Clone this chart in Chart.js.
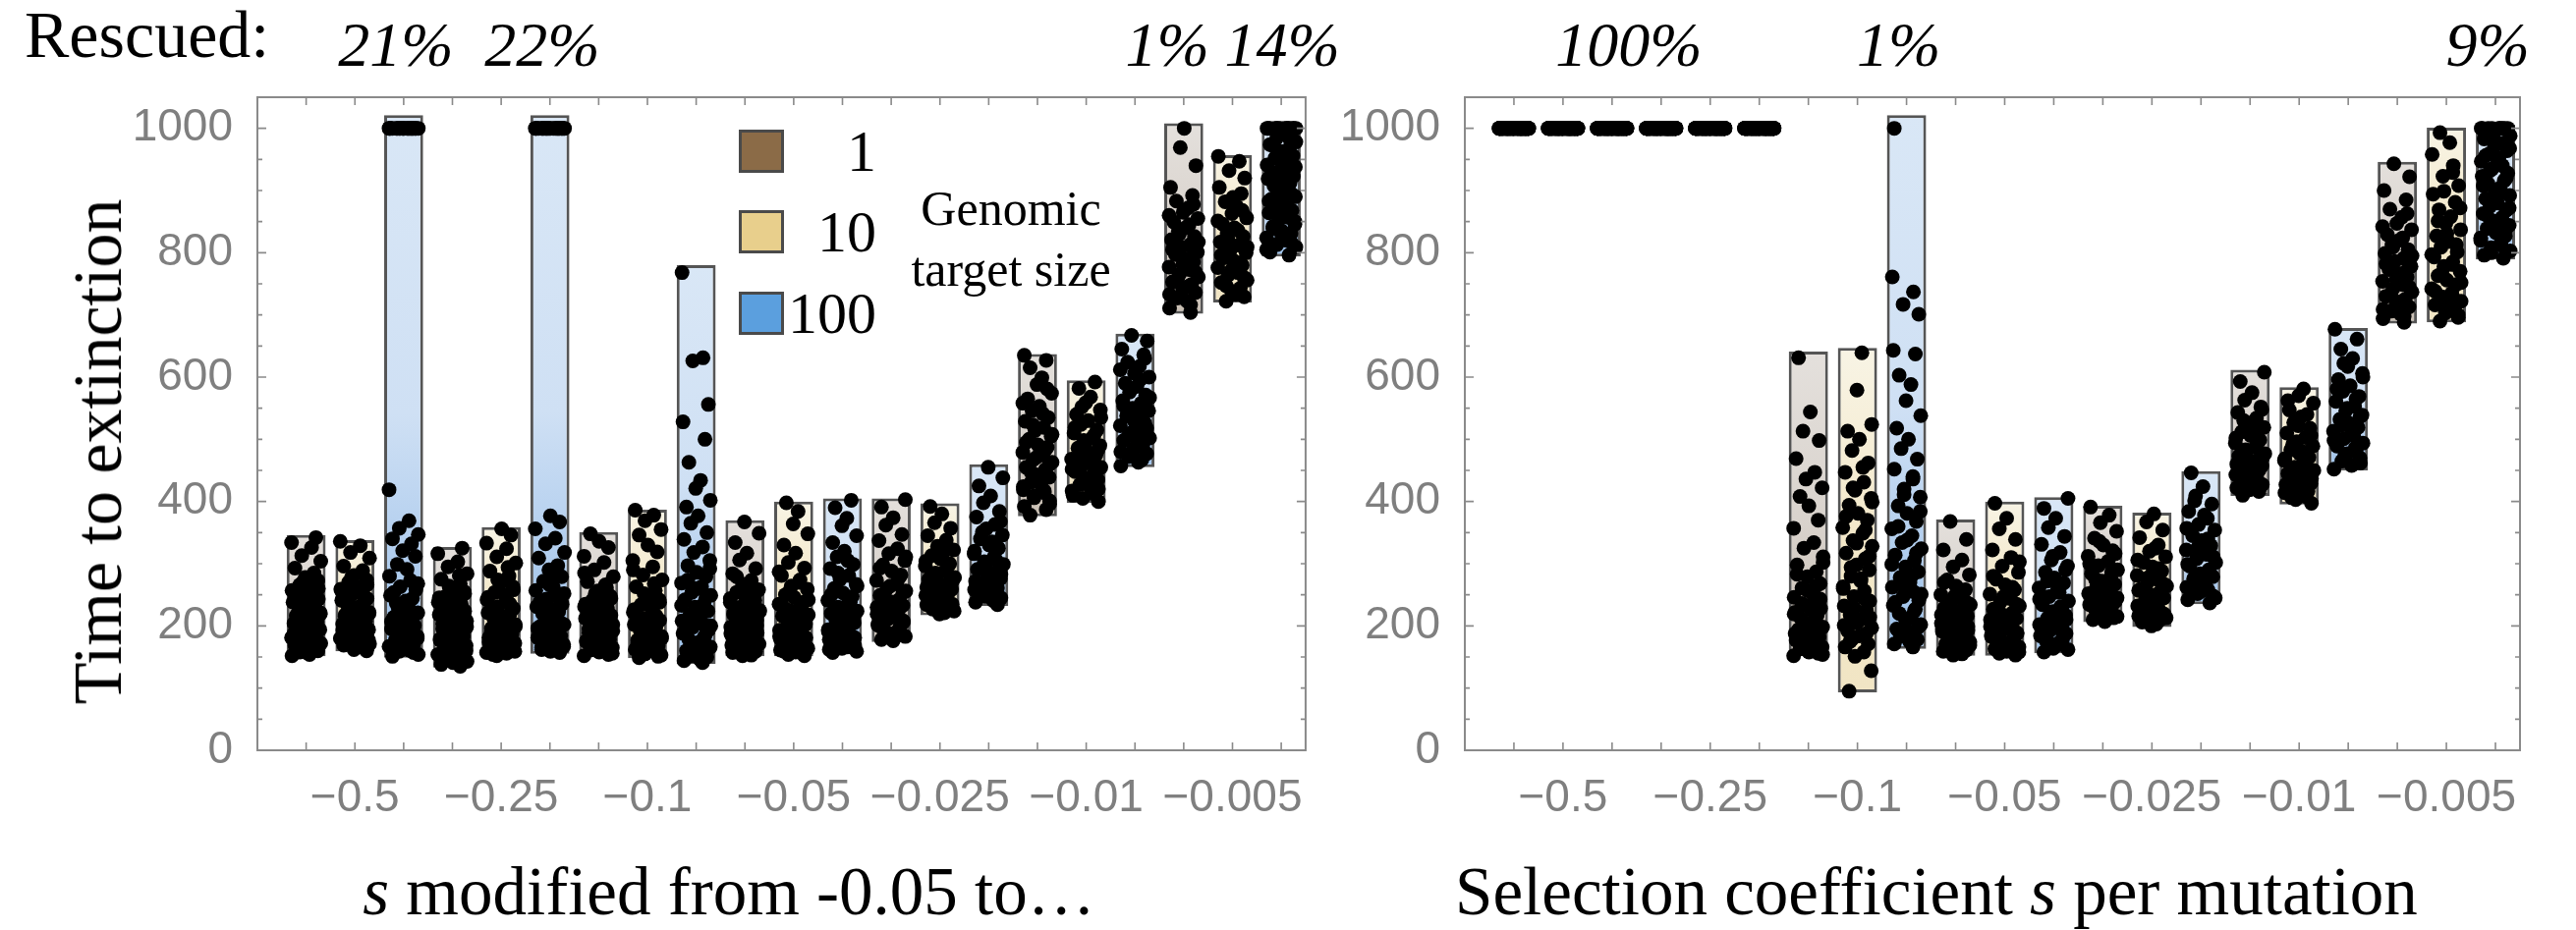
<!DOCTYPE html>
<html>
<head>
<meta charset="utf-8">
<script src="https://cdn.jsdelivr.net/npm/chart.js@4.4.1/dist/chart.umd.min.js"></script>
<style>
  html, body { margin: 0; padding: 0; background: #fff; }
  #fig { position: relative; width: 2622px; height: 947px; overflow: hidden; background: #fff;
         font-family: "Liberation Serif", "DejaVu Serif", serif; color: #000; }
  #fig canvas { position: absolute; top: 0; }
  .t { position: absolute; white-space: nowrap; line-height: 1; }
  .sw { position: absolute; width: 40px; height: 38px; border: 3px solid #4a4a4a; }
</style>
</head>
<body>
<div id="fig">
  <canvas id="modChart" width="1340" height="947" style="left:0;width:1340px;height:947px"></canvas>
  <canvas id="selChart" width="1282" height="947" style="left:1340px;width:1282px;height:947px"></canvas>

  <div class="t" style="left:25px;top:1px;font-size:68px;">Rescued:</div>

  <div class="t" style="left:100px;top:460px;font-size:70px;transform:translate(-50%,-50%) rotate(-90deg);">Time to extinction</div>

  <div class="t" style="left:742px;top:908px;font-size:69px;transform:translate(-50%,-50%);"><i>s</i> modified from -0.05 to…</div>
  <div class="t" style="left:1971px;top:908px;font-size:69px;transform:translate(-50%,-50%);">Selection coefficient <i>s</i> per mutation</div>

  <!-- target size key -->
  <div class="sw" style="left:752px;top:132px;background:#8b6b47;"></div>
  <div class="sw" style="left:752px;top:214px;background:#e8cf8c;"></div>
  <div class="sw" style="left:752px;top:297px;background:#5b9fde;"></div>
  <div class="t" style="left:892px;top:154px;font-size:60px;transform:translate(-100%,-50%);">1</div>
  <div class="t" style="left:892px;top:236px;font-size:60px;transform:translate(-100%,-50%);">10</div>
  <div class="t" style="left:892px;top:319px;font-size:60px;transform:translate(-100%,-50%);">100</div>
  <div class="t" style="left:1029px;top:212px;font-size:50px;transform:translate(-50%,-50%);">Genomic</div>
  <div class="t" style="left:1029px;top:274px;font-size:50px;transform:translate(-50%,-50%);">target size</div>
</div>

<script>
// ---- axis labels ----
const GROUP_LABELS = ['−0.5', '−0.25', '−0.1', '−0.05', '−0.025', '−0.01', '−0.005'];
const TARGET_SIZES = [1, 10, 100];
const Y_TICKS = [0, 200, 400, 600, 800, 1000];

// ---- panel 1: s modified from -0.05 ----
// box extents (rows: target size 1, 10, 100; columns: group)
const modLow  = [[151, 133, 151, 151, 174, 376, 702],
                 [159, 151, 148, 151, 217, 398, 720],
                 [149, 155, 139, 155, 232, 455, 794]];
const modHigh = [[346, 327, 351, 370, 405, 637, 1008],
                 [338, 359, 387, 400, 397, 595, 957],
                 [1021, 1021, 780, 405, 460, 670, 1006]];
// rescued runs out of 100 (these last to t = 1000)
const modRescued = [[0, 0, 0, 0, 0, 0, 1],
                    [0, 0, 0, 0, 0, 0, 0],
                    [21, 22, 0, 0, 0, 0, 14]];
// extinction times of the other runs
const modRuns1 = [
  [152,154,158,160,163,167,169,172,176,177,181,185,186,190,194,196,199,204,206,209,213,217,219,224,227,231,236,238,243,248,251,257,262,266,273,278,285,293,304,313,326,334,342,
   157,165,171,179,183,188,192,201,208,215,221,229,234,241,246,255,260,270,281],
  [135,138,143,146,151,154,157,162,164,168,173,175,179,184,186,190,195,198,201,206,211,213,218,224,227,232,238,241,248,255,259,268,275,284,295,303,316,325,
   141,149,160,166,171,177,182,188,193,203,208,216,221,229,235,245,252,264,281],
  [152,154,158,161,165,167,171,176,178,181,186,189,192,198,200,205,210,212,217,223,226,231,238,241,248,256,261,271,279,290,302,312,326,336,348,
   156,163,169,174,179,184,190,195,202,207,215,220,229,235,244,252,266,285],
  [152,153,157,159,162,166,167,171,175,176,180,184,185,189,193,195,198,203,205,209,213,215,220,225,227,232,238,241,247,254,258,267,273,284,292,306,317,334,349,367,
   155,161,164,169,173,178,182,188,191,197,201,207,211,218,223,230,236,244,251,262,279],
  [176,178,183,187,189,194,199,201,206,211,213,219,224,227,233,239,242,249,256,260,268,273,282,288,298,305,316,324,337,347,362,374,391,403,
   180,185,192,196,203,208,216,222,230,236,246,253,264,277,293,311],
  [378,387,392,401,406,414,419,427,431,439,443,451,455,463,467,475,479,487,491,500,505,514,519,529,535,546,553,565,574,588,599,615,627,635,
   396,409,417,424,435,447,459,471,483,495,508,523,541,558,581],
  [704,711,722,727,736,741,749,753,761,765,773,777,785,789,797,801,809,813,821,826,835,840,849,855,865,872,883,892,905,940,969,
   716,733,745,757,769,781,793,805,817,830,845,860,878]
];
const modRuns10 = [
  [160,162,166,169,171,175,179,180,185,187,191,194,196,201,203,208,211,213,218,222,224,229,233,235,241,244,250,253,259,262,270,274,281,289,296,309,318,329,336,
   164,168,173,177,182,189,193,199,206,210,216,220,227,231,238,247,256,266,278],
  [152,156,157,161,166,167,172,175,179,181,187,189,194,196,202,204,210,212,219,221,228,231,238,242,250,254,263,269,280,288,301,311,324,333,346,356,
   154,159,164,169,174,177,183,185,191,199,207,215,224,235,246,258,274,294],
  [149,153,155,160,162,168,170,175,177,183,185,191,193,200,202,209,212,219,222,230,234,242,247,257,263,274,282,295,305,319,330,346,355,369,378,386,
   151,158,165,172,180,188,197,205,216,226,238,252,268,290],
  [152,154,158,159,164,165,170,172,176,179,181,186,187,193,194,200,202,208,210,216,218,225,228,235,238,246,250,259,264,274,281,293,302,317,330,348,364,384,398,
   156,161,167,174,178,183,190,197,204,213,221,232,242,255,270,287],
  [219,221,227,228,234,235,241,243,249,251,257,259,266,268,275,278,285,288,296,300,308,313,322,328,338,345,357,366,380,392,
   224,231,238,246,254,262,271,281,292,304,318],
  [400,405,413,417,424,427,435,438,445,448,455,458,465,468,475,479,486,490,498,502,510,515,524,530,540,547,559,568,582,592,
   410,420,431,441,452,462,472,483,494,506,519,535,552],
  [722,729,738,743,752,756,764,768,776,780,788,792,800,804,812,817,826,831,840,846,856,863,874,882,895,905,920,932,947,955,
   733,747,760,772,784,796,809,821,836,851,868,889]
];
const modRuns100 = [
  [151,154,159,161,167,169,175,177,183,186,192,195,201,204,211,214,221,225,232,236,244,249,258,263,273,280,291,299,312,321,332,340,347,357,369,419,
   157,164,172,180,188,198,207,217,228,240,254,268],
  [157,159,165,167,173,175,181,184,190,193,199,202,209,213,220,223,231,235,243,248,257,262,272,279,290,297,309,318,332,341,356,367,377,
   162,170,178,187,196,205,216,227,239,252,266,284],
  [141,144,150,152,158,160,166,169,175,178,184,188,193,198,203,208,213,218,224,230,236,242,249,254,263,269,279,286,297,305,318,327,339,350,365,377,391,402,421,434,463,500,528,556,626,631,768,
   147,155,163,172,181,190,200,210,221,233,246,260,274,292],
  [157,159,164,166,171,173,178,181,186,188,194,196,202,205,211,214,220,224,230,235,241,247,253,260,267,275,281,292,299,311,320,334,345,361,373,390,402,
   162,168,176,183,191,199,208,217,227,238,250,264,285,305],
  [234,238,245,248,255,258,265,269,276,279,287,291,299,303,311,316,325,330,340,346,356,363,375,384,398,409,425,438,455,
   241,251,261,272,283,295,307,320,335,351,368],
  [457,463,472,477,485,490,498,502,510,514,522,526,534,538,546,550,558,562,571,576,585,590,600,606,617,624,636,645,658,667,
   467,480,494,506,518,530,542,554,567,580,596,612,630],
  [796,801,809,813,820,824,831,835,842,846,853,857,864,868,875,879,886,890,897,901,908,912,919,923,930,934,941,945,952,956,963,967,974,978,985,990,
   805,817,828,839,850,861,872,883,894,905,916,927,938,949,960,971,982]
];

// ---- panel 2: selection coefficient s per mutation ----
const selLow  = [[1000, 1000, 151, 152, 206, 409, 686],
                 [1000, 1000, 93, 152, 198, 395, 688],
                 [1000, 1000, 163, 156, 235, 450, 789]];
const selHigh = [[1000, 1000, 641, 371, 393, 612, 946],
                 [1000, 1000, 647, 400, 382, 584, 1001],
                 [1000, 1000, 1021, 407, 449, 679, 1006]];
const selRescued = [[100, 100, 0, 0, 0, 0, 0],
                    [100, 100, 0, 0, 0, 0, 0],
                    [100, 100, 1, 0, 0, 0, 9]];
const selRuns1 = [
  [], [],
  [152,156,158,163,166,170,174,177,182,185,190,194,198,203,207,212,217,222,228,233,240,246,253,261,268,279,287,298,311,325,334,357,370,393,408,422,436,447,469,498,513,544,631,
   154,160,168,175,180,188,196,201,210,219,225,236,243,257,264,283,302],
  [153,155,159,161,165,167,171,174,177,180,184,186,191,193,197,201,204,208,212,216,220,225,229,234,239,245,250,258,264,274,282,295,306,322,339,368,
   157,163,169,172,178,182,188,195,199,206,210,218,223,231,237,248,255,270],
  [207,210,215,218,223,226,231,234,239,243,248,252,257,262,267,272,278,284,290,297,304,312,321,330,341,352,366,378,391,
   213,220,228,236,245,254,264,275,287,300,316,336],
  [410,416,422,427,433,437,443,447,453,457,463,467,473,477,483,488,494,499,506,512,519,526,534,543,552,563,575,593,608,
   419,430,440,450,460,470,480,491,502,515,530,548],
  [688,694,701,706,713,718,725,730,737,742,749,754,761,766,773,778,786,791,799,805,813,820,829,837,847,857,870,885,900,922,943,
   698,709,721,733,745,757,769,782,795,809,824,842,863]
];
const selRuns10 = [
  [], [],
  [95,128,151,158,166,171,179,184,192,197,205,211,218,225,232,240,247,256,263,272,280,290,298,308,317,328,337,349,358,370,381,394,405,418,431,447,462,482,500,513,524,579,639,
   175,188,201,214,229,244,260,276,294,312,333,354,376,399,422,455],
  [153,156,159,163,166,169,173,176,180,183,187,191,195,199,203,207,212,217,221,227,232,238,244,251,258,266,275,286,296,310,322,339,356,373,397,
   158,161,168,171,178,185,189,197,201,210,215,224,235,247,262,280,303],
  [200,203,208,211,216,219,224,227,232,236,241,245,250,254,259,264,270,275,281,288,295,302,311,320,330,342,354,367,380,
   206,213,221,229,238,247,257,267,278,292,306,325],
  [397,403,408,414,419,425,429,435,439,445,450,455,460,466,471,477,483,489,496,503,510,518,527,536,547,558,570,581,
   406,416,427,437,448,458,469,480,492,506,522,540,562],
  [690,696,703,709,716,722,729,735,742,749,756,763,770,778,785,793,801,809,818,827,837,847,858,869,881,894,908,923,940,958,977,993,
   700,712,725,738,752,767,781,797,813,831,851,872,899,929]
];
const selRuns100 = [
  [], [],
  [166,171,178,183,190,195,202,208,214,220,227,233,241,247,255,262,270,278,287,295,305,314,324,334,345,356,368,381,393,407,420,436,452,468,485,500,518,538,562,588,603,637,643,701,717,737,761,
   174,186,198,211,224,238,251,266,281,299,317,338,360,384,411,440],
  [158,162,167,170,175,179,184,188,193,197,202,207,212,217,223,228,234,240,247,254,261,269,277,286,296,306,318,331,344,358,373,389,405,
   164,172,181,190,200,210,220,231,243,257,272,290,312],
  [237,242,248,252,258,262,268,273,279,284,290,296,302,308,315,322,329,337,345,354,363,373,384,396,409,424,446,
   245,255,265,276,287,299,311,325,340,357,378,401],
  [452,458,465,470,477,482,489,494,501,506,513,519,526,532,539,546,553,561,569,577,586,596,606,617,630,645,661,677,
   462,474,486,498,510,523,536,550,565,581,600,622],
  [791,796,803,808,815,820,827,832,839,844,851,856,863,868,875,880,887,892,899,904,911,916,923,928,935,940,947,952,959,964,971,976,983,988,
   800,812,824,836,848,860,872,884,896,908,920,932,944,956,968,980]
];

// ---- styling ----
const RESCUE_TIME = 1000;
// horizontal spread of the dots inside a box, in box-slot units
const JITTER = [-0.29,0.07,-0.13,0.24,-0.02,0.16,-0.23,0.30,-0.09,0.11,-0.30,0.20,0.01,-0.17,0.28,
                -0.05,0.13,-0.25,0.22,-0.11,0.04,-0.20,0.29,-0.01,0.09,-0.15,0.18,-0.27,0.25,-0.07,0.14];
const BOX_SHADES = [
  ['#e4e0dc', '#d9d3cd', '#c9bfb3'],
  ['#f8f4e5', '#f3e8c9', '#f1e5c4'],
  ['#d9e7f6', '#cfe0f4', '#9cc1ea']
];
const TICK_FONT = { family: '"Liberation Sans", Arial, sans-serif', size: 46 };
const TICK_COLOR = '#7f7f7f';

const frameTicks = {
  id: 'frameTicks',
  afterDraw(chart) {
    const { ctx, chartArea: a, scales: { x, y } } = chart;
    ctx.save();
    ctx.strokeStyle = '#8a8a8a';
    ctx.lineWidth = 2;
    ctx.strokeRect(a.left, a.top, a.right - a.left, a.bottom - a.top);
    ctx.lineWidth = 1.6;
    ctx.beginPath();
    for (let i = 0; i < GROUP_LABELS.length * TARGET_SIZES.length; i++) {
      const px = x.getPixelForValue(i);
      ctx.moveTo(px, a.bottom); ctx.lineTo(px, a.bottom - 8);
      ctx.moveTo(px, a.top);    ctx.lineTo(px, a.top + 8);
    }
    for (let v = 0; v <= 1000; v += 50) {
      const py = y.getPixelForValue(v);
      const len = v % 200 === 0 ? 9 : 5;
      ctx.moveTo(a.left, py);  ctx.lineTo(a.left + len, py);
      ctx.moveTo(a.right, py); ctx.lineTo(a.right - len, py);
    }
    ctx.stroke();
    ctx.restore();
  }
};

function boxGradient(t) {
  return (c) => {
    const chart = c.chart;
    const ys = chart.scales && chart.scales.y;
    if (c.type !== 'data' || !ys || !chart.chartArea) return BOX_SHADES[t][1];
    const [lo, hi] = c.raw.y;
    const top = ys.getPixelForValue(hi), bot = ys.getPixelForValue(lo);
    if (bot - top < 2) return BOX_SHADES[t][1];
    const g = chart.ctx.createLinearGradient(0, top, 0, bot);
    g.addColorStop(0, BOX_SHADES[t][0]);
    g.addColorStop(0.55, BOX_SHADES[t][1]);
    g.addColorStop(1, BOX_SHADES[t][2]);
    return g;
  };
}

function buildPanel(canvasId, low, high, rescued, runs, yAxisWidth, padRight) {
  const datasets = [];
  const points = [];
  TARGET_SIZES.forEach((size, t) => {
    datasets.push({
      type: 'bar',
      label: 'target ' + size,
      order: 2,
      data: GROUP_LABELS.map((_, g) => ({ x: 3 * g + t, y: [low[t][g], high[t][g]] })),
      backgroundColor: boxGradient(t),
      borderColor: '#555555',
      borderWidth: 3,
      borderSkipped: false,
      grouped: false,
      categoryPercentage: 1,
      barPercentage: 0.8
    });
    GROUP_LABELS.forEach((_, g) => {
      const vals = runs[t][g].slice();
      for (let k = 0; k < rescued[t][g]; k++) vals.push(RESCUE_TIME);
      vals.forEach((v, k) => points.push({ x: 3 * g + t + JITTER[(k + 5 * g + 3 * t) % JITTER.length], y: v }));
    });
  });
  datasets.push({
    type: 'scatter',
    label: 'runs',
    order: 1,
    data: points,
    pointRadius: 7.5,
    pointBackgroundColor: '#000',
    pointBorderWidth: 0,
    showLine: false
  });

  return new Chart(document.getElementById(canvasId), {
    type: 'bar',
    data: { datasets },
    plugins: [frameTicks],
    options: {
      responsive: false,
      animation: false,
      devicePixelRatio: 1,
      layout: { padding: { top: 99, right: padRight, bottom: 0, left: 0 } },
      plugins: { legend: { display: false }, tooltip: { enabled: false } },
      scales: {
        x: {
          type: 'linear', min: -1, max: 20.5, offset: false,
          grid: { display: false }, border: { display: false },
          afterBuildTicks(s) { s.ticks = GROUP_LABELS.map((_, g) => ({ value: 3 * g + 1 })); },
          afterFit(s) { s.height = 947 - 764; },
          ticks: {
            autoSkip: false, maxRotation: 0, padding: 14,
            font: TICK_FONT, color: TICK_COLOR,
            callback: (v) => GROUP_LABELS[Math.round((v - 1) / 3)]
          }
        },
        y: {
          type: 'linear', min: 0, max: 1050,
          grid: { display: false }, border: { display: false },
          afterBuildTicks(s) { s.ticks = Y_TICKS.map(v => ({ value: v })); },
          afterFit(s) { s.width = yAxisWidth; },
          ticks: { padding: 17, font: TICK_FONT, color: TICK_COLOR, callback: (v) => String(v) }
        }
      }
    }
  });
}

// percentage of rescued runs, written above the boxes they belong to
const rescueLabels = [];
function addRescueLabels(chart, canvasLeft, rescued) {
  const boxes = [];
  TARGET_SIZES.forEach((_, t) => GROUP_LABELS.forEach((_, g) => {
    if (rescued[t][g] > 0) boxes.push({ i: 3 * g + t, pct: rescued[t][g] });
  }));
  boxes.sort((a, b) => a.i - b.i);
  const spans = [];
  boxes.forEach(b => {
    const last = spans[spans.length - 1];
    if (last && last.pct === b.pct && last.idx[last.idx.length - 1] === b.i - 1) last.idx.push(b.i);
    else spans.push({ pct: b.pct, idx: [b.i] });
  });
  const fig = document.getElementById('fig');
  spans.forEach(r => {
    const px = r.idx.reduce((s, i) => s + chart.scales.x.getPixelForValue(i), 0) / r.idx.length;
    const d = document.createElement('div');
    d.className = 't';
    d.style.cssText = 'top:14px;font-size:64px;font-style:italic;';
    d.textContent = r.pct + '%';
    fig.appendChild(d);
    rescueLabels.push({ el: d, cx: canvasLeft + px - 8, w: d.offsetWidth });
  });
}

// keep neighbouring labels from running into each other
function placeRescueLabels() {
  rescueLabels.sort((a, b) => a.cx - b.cx);
  const gap = 16;
  for (let i = 1; i < rescueLabels.length; i++) {
    const p = rescueLabels[i - 1], q = rescueLabels[i];
    const overlap = (p.cx + p.w / 2 + gap) - (q.cx - q.w / 2);
    if (overlap > 0) { p.cx -= overlap / 2; q.cx += overlap / 2; }
  }
  rescueLabels.forEach(l => { l.el.style.left = (l.cx - l.w / 2) + 'px'; });
}

const modChart = buildPanel('modChart', modLow, modHigh, modRescued,
  [modRuns1, modRuns10, modRuns100], 262, 4);
const selChart = buildPanel('selChart', selLow, selHigh, selRescued,
  [selRuns1, selRuns10, selRuns100], 151, 57);
addRescueLabels(modChart, 0, modRescued);
addRescueLabels(selChart, 1340, selRescued);
placeRescueLabels();
</script>
</body>
</html>
